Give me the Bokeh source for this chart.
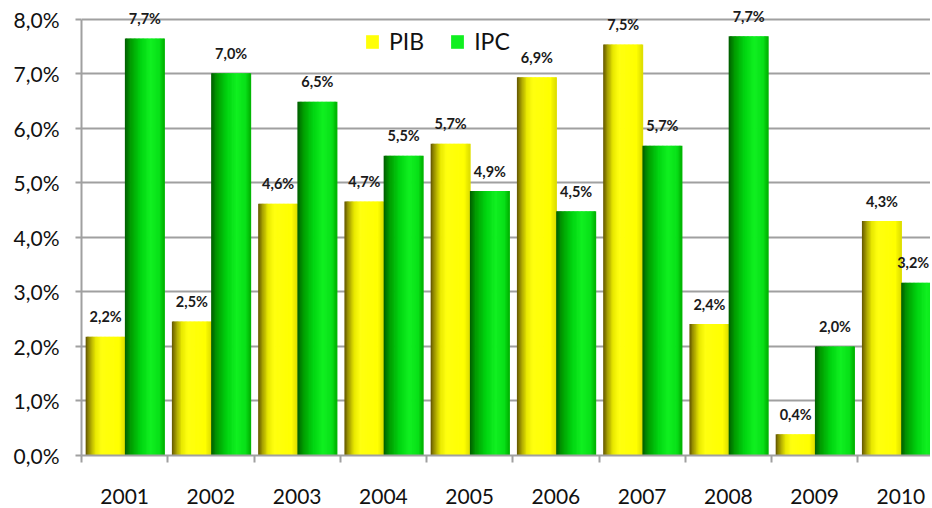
import numpy as np
from bokeh.plotting import figure
from bokeh.models import (ColumnDataSource, Range1d, FixedTicker, CustomJSTickFormatter,
                          Legend, LegendItem)
from bokeh.core.properties import value
from bokeh.embed import file_html
from bokeh.resources import INLINE

# ---- data ----
years = ["2001", "2002", "2003", "2004", "2005", "2006", "2007", "2008", "2009", "2010"]
pib = [2.18, 2.46, 4.62, 4.66, 5.72, 6.94, 7.54, 2.41, 0.39, 4.30]
ipc = [7.65, 7.01, 6.49, 5.50, 4.85, 4.48, 5.68, 7.69, 2.00, 3.17]
pib_labels = ["2,2%", "2,5%", "4,6%", "4,7%", "5,7%", "6,9%", "7,5%", "2,4%", "0,4%", "4,3%"]
ipc_labels = ["7,7%", "7,0%", "6,5%", "5,5%", "4,9%", "4,5%", "5,7%", "7,7%", "2,0%", "3,2%"]
y_ticks = [0, 1, 2, 3, 4, 5, 6, 7, 8]

FONT = "Lato"
N = 30
BW = 0.455

def hex2rgb(h):
    h = h.lstrip("#")
    return np.array([int(h[i:i + 2], 16) for i in (0, 2, 4)], dtype=float)

def gradient(stops, n):
    ts = np.array([s[0] for s in stops])
    cs = np.array([hex2rgb(s[1]) for s in stops])
    out = []
    for k in range(n):
        t = (k + 0.5) / n
        rgb = [np.interp(t, ts, cs[:, j]) for j in range(3)]
        out.append("#%02x%02x%02x" % tuple(int(round(v)) for v in rgb))
    return out

yellow_stops = [(0.0, "#605400"), (0.1, "#a09800"), (0.25, "#e8e800"), (0.4, "#ffff10"),
                (0.85, "#ffff00"), (1.0, "#dcdc00")]
green_stops = [(0.0, "#005c00"), (0.15, "#009c00"), (0.4, "#00d410"), (0.65, "#10f020"),
               (0.88, "#08e018"), (1.0, "#00b000")]

def strips(vals, offset, stops):
    cols = gradient(stops, N)
    xs, tops, cs = [], [], []
    for i, v in enumerate(vals):
        left = i + offset - BW / 2
        for k in range(N):
            xs.append(left + (k + 0.5) * BW / N)
            tops.append(v)
            cs.append(cols[k])
    return ColumnDataSource(dict(x=xs, top=tops, color=cs))

W, H = 930, 506
PX_PER_UNIT = 54.9
TOP_PAD = 17  # px above the 8,0% line
p = figure(width=W, height=H, output_backend="svg", toolbar_location=None,
           x_range=Range1d(0, 9.843), y_range=Range1d(0, 8.0 + TOP_PAD / PX_PER_UNIT),
           min_border_left=81, min_border_right=0, min_border_top=2, min_border_bottom=48)
p.outline_line_color = None
p.background_fill_color = "white"

sw = BW / N * 1.6
ry = p.vbar(x="x", top="top", width=sw, bottom=0, fill_color="color", line_color=None,
            source=strips(pib, 0.28, yellow_stops))
rg = p.vbar(x="x", top="top", width=sw, bottom=0, fill_color="color", line_color=None,
            source=strips(ipc, 0.735, green_stops))

# data labels
n = len(years)
lx = [i + 0.28 for i in range(n)] + [i + 0.735 for i in range(n)]
ly = pib + ipc
lt = pib_labels + ipc_labels
xoff = [0] * (2 * n)
xoff[-1] = -8  # keep the last label inside the window
p.text(x=lx, y=ly, text=lt, x_offset=xoff, y_offset=-20, text_align="center",
       text_baseline="middle", text_font=value(FONT), text_font_style="bold",
       text_font_size="14.5px", text_color="#1a1a1a")

# legend
legend = Legend(items=[LegendItem(label="PIB", renderers=[ry], index=18),
                       LegendItem(label="IPC", renderers=[rg], index=19)],
                orientation="horizontal", location=(283, 400),
                glyph_width=16, glyph_height=17, label_standoff=9, spacing=25,
                padding=0, margin=0, border_line_color=None, background_fill_alpha=0,
                label_text_font=FONT, label_text_font_size="23px", label_text_color="#111111",
                label_height=26)
p.add_layout(legend, "center")

# y axis
p.yaxis.ticker = FixedTicker(ticks=y_ticks)
p.yaxis.bounds = (0, 8)
p.yaxis.formatter = CustomJSTickFormatter(code="return tick.toFixed(1).replace('.', ',') + '%';")
p.yaxis.major_label_text_font = FONT
p.yaxis.major_label_text_font_size = "21px"
p.yaxis.major_label_text_color = "#111111"
p.yaxis.major_label_standoff = 16
p.yaxis.axis_line_color = "#a0a0a0"
p.yaxis.axis_line_width = 2
p.yaxis.major_tick_line_color = "#a0a0a0"
p.yaxis.major_tick_line_width = 2
p.yaxis.major_tick_out = 6
p.yaxis.major_tick_in = 0
p.yaxis.minor_tick_line_color = None

# x axis
centers = [i + 0.5 for i in range(n)]
bounds = [float(i) for i in range(n + 1)]
p.xaxis.ticker = FixedTicker(ticks=centers, minor_ticks=bounds)
p.xaxis.major_label_overrides = {c: y for c, y in zip(centers, years)}
p.xaxis.major_label_text_font = FONT
p.xaxis.major_label_text_font_size = "21px"
p.xaxis.major_label_text_color = "#111111"
p.xaxis.major_label_standoff = 26
p.xaxis.major_tick_line_color = None
p.xaxis.minor_tick_line_color = "#a0a0a0"
p.xaxis.minor_tick_line_width = 2
p.xaxis.minor_tick_out = 7
p.xaxis.minor_tick_in = 0
p.xaxis.axis_line_color = "#a0a0a0"
p.xaxis.axis_line_width = 2

p.xgrid.grid_line_color = None
p.ygrid.ticker = FixedTicker(ticks=y_ticks)
p.ygrid.grid_line_color = "#a0a0a0"
p.ygrid.grid_line_width = 2

open("out.html", "w").write(file_html(p, INLINE))
